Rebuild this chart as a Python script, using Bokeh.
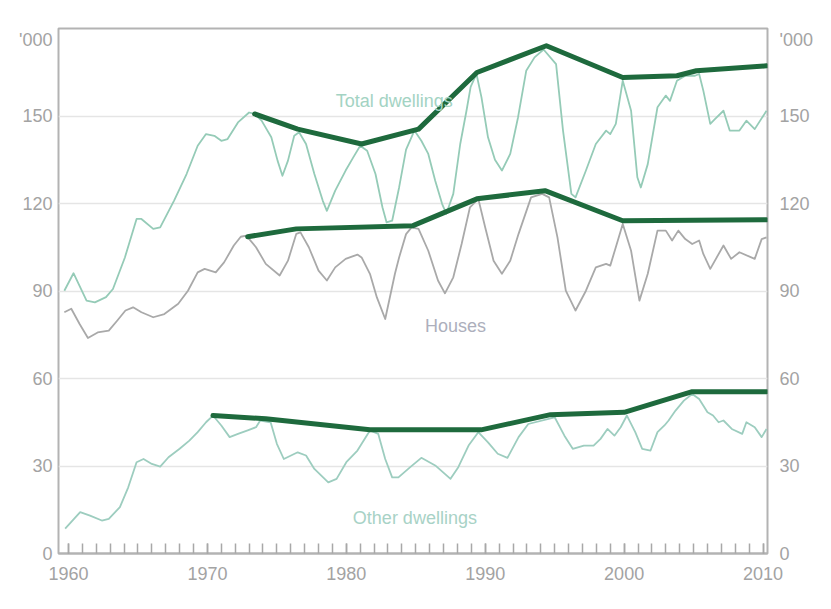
from bokeh.plotting import figure
from bokeh.models import FixedTicker, LinearAxis, Range1d, Label
from bokeh.embed import file_html
from bokeh.resources import INLINE

# ---- data ('000 dwellings) ----
total_x = [1959.7, 1960.36, 1961.3, 1961.9, 1962.7, 1963.2, 1964.06, 1964.9, 1965.25, 1966.1,
           1966.6, 1967.6, 1968.5, 1969.3, 1969.9, 1970.5, 1971.0, 1971.45, 1972.2, 1973.0,
           1973.4, 1973.9, 1974.6, 1975.05, 1975.4, 1975.8, 1976.25, 1976.6, 1977.1, 1977.7,
           1978.3, 1978.6, 1979.2, 1979.95, 1980.5, 1981.0, 1981.5, 1982.1, 1982.6, 1982.9,
           1983.3, 1983.8, 1984.3, 1984.9, 1985.4, 1985.9, 1986.4, 1986.9, 1987.2, 1987.7,
           1988.2, 1988.65, 1988.95, 1989.37, 1989.73, 1990.2, 1990.7, 1991.2, 1991.8, 1992.36,
           1992.95, 1993.55, 1994.2, 1995.1, 1995.6, 1996.2, 1996.5, 1997.25, 1997.96, 1998.7,
           1999.0, 1999.4, 1999.9, 2000.5, 2000.95, 2001.2, 2001.7, 2002.4, 2003.0, 2003.3,
           2003.8, 2004.4, 2005.1, 2005.4, 2005.7, 2006.2, 2006.55, 2007.15, 2007.6, 2008.3,
           2008.8, 2009.4, 2010.25]
total_y = [90.1, 96.1, 86.7, 86.1, 87.9, 90.7, 101.5, 114.7, 114.7, 111.3,
           111.8, 121.0, 130.1, 139.8, 143.8, 143.2, 141.5, 142.1, 147.8, 151.2,
           150.7, 148.4, 142.7, 134.7, 129.5, 134.7, 143.2, 144.4, 140.4, 130.1,
           121.0, 117.5, 124.4, 131.3, 135.8, 139.8, 138.1, 130.1, 118.7, 113.5,
           114.1, 125.5, 138.5, 145.0, 141.5, 137.0, 127.8, 119.8, 116.5, 123.3,
           140.4, 151.8, 160.0, 164.4, 156.4, 142.7, 135.0, 131.3, 137.0, 149.5,
           165.5, 170.1, 172.8, 167.8, 145.0, 123.3, 122.1, 131.3, 140.4, 145.0,
           143.8, 147.3, 162.1, 151.8, 129.0, 125.5, 133.5, 153.0, 157.0, 155.2,
           162.1, 163.8, 163.8, 164.4, 158.7, 147.3, 149.0, 151.8, 145.0, 145.0,
           148.4, 145.5, 151.8]

houses_x = [1959.7, 1960.2, 1960.8, 1961.4, 1962.1, 1962.9, 1963.5, 1964.1, 1964.65, 1965.25,
            1966.1, 1966.9, 1967.9, 1968.6, 1969.3, 1969.8, 1970.6, 1971.2, 1971.9, 1972.4,
            1972.8, 1973.5, 1974.2, 1975.2, 1975.8, 1976.4, 1976.7, 1977.3, 1978.0, 1978.6,
            1979.2, 1979.95, 1980.8, 1981.1, 1981.7, 1982.2, 1982.8, 1983.5, 1983.8, 1984.3,
            1984.7, 1985.2, 1985.9, 1986.6, 1987.1, 1987.7, 1988.3, 1988.9, 1989.5, 1990.0,
            1990.6, 1991.2, 1991.8, 1992.4, 1993.3, 1994.1, 1994.6, 1995.2, 1995.8, 1996.5,
            1997.25, 1997.96, 1998.7, 1999.0, 1999.4, 1999.9, 2000.5, 2001.1, 2001.7, 2002.4,
            2003.0, 2003.45, 2003.9, 2004.4, 2004.9, 2005.4, 2005.7, 2006.2, 2007.15, 2007.7,
            2008.3, 2009.4, 2009.9, 2010.25]
houses_y = [82.7, 83.9, 78.7, 73.9, 75.8, 76.4, 79.8, 83.3, 84.4, 82.7,
            81.0, 82.1, 85.6, 90.1, 96.4, 97.6, 96.4, 99.8, 105.6, 108.6,
            109.0, 105.0, 99.3, 95.3, 100.4, 109.6, 110.1, 105.0, 97.0, 93.6,
            98.1, 101.0, 102.5, 101.5, 95.9, 87.8, 80.4, 95.9, 101.5, 109.5,
            111.8, 111.3, 103.8, 93.6, 89.2, 94.7, 106.1, 118.7, 121.6, 111.8,
            100.4, 95.9, 100.4, 109.6, 122.1, 123.3, 122.1, 108.4, 90.1, 83.3,
            90.1, 98.1, 99.3, 98.7, 105.0, 113.0, 103.8, 86.7, 95.9, 110.7,
            110.7, 107.3, 110.7, 107.8, 106.1, 107.3, 102.7, 97.6, 105.6, 101.0,
            103.3, 101.0, 107.8, 108.4]

other_x = [1959.76, 1960.84, 1961.55, 1962.4, 1962.9, 1963.7, 1964.3, 1964.9, 1965.4, 1966.0,
           1966.6, 1967.2, 1968.0, 1968.7, 1969.3, 1969.9, 1970.4, 1971.0, 1971.6, 1972.2,
           1972.9, 1973.5, 1973.8, 1974.55, 1975.0, 1975.5, 1976.5, 1977.1, 1977.7, 1978.7,
           1979.3, 1980.0, 1980.8, 1981.7, 1982.3, 1982.8, 1983.3, 1983.75, 1984.6, 1985.4,
           1986.4, 1987.5, 1988.06, 1988.8, 1989.5, 1990.2, 1990.9, 1991.6, 1992.4, 1993.1,
           1995.0, 1995.7, 1996.3, 1997.1, 1997.8, 1998.3, 1998.8, 1999.3, 1999.75, 2000.2,
           2000.8, 2001.3, 2001.9, 2002.4, 2002.9, 2003.2, 2003.7, 2004.3, 2004.9, 2005.4,
           2006.0, 2006.4, 2006.8, 2007.15, 2007.75, 2008.5, 2008.8, 2009.4, 2009.9, 2010.25]
other_y = [8.5, 14.2, 13.0, 11.3, 11.9, 15.9, 22.7, 31.3, 32.4, 30.7,
           29.8, 33.0, 35.9, 38.7, 41.6, 45.0, 47.3, 43.9, 39.9, 41.0,
           42.2, 43.3, 45.6, 45.0, 37.6, 32.4, 34.7, 33.6, 29.0, 24.4,
           25.6, 31.3, 35.3, 42.2, 41.0, 32.4, 26.1, 26.1, 29.6, 32.8,
           30.2, 25.6, 29.6, 37.0, 41.6, 38.1, 34.2, 32.8, 39.9, 44.4,
           46.7, 40.4, 35.9, 37.0, 37.0, 39.3, 42.7, 40.4, 43.3, 47.3,
           41.6, 35.9, 35.3, 41.6, 43.9, 45.6, 49.0, 52.4, 54.7, 53.0,
           48.4, 47.3, 45.0, 45.6, 42.7, 41.0, 45.0, 43.3, 39.9, 42.7]

total_peak_x = [1973.4, 1976.5, 1981.1, 1985.2, 1989.4, 1994.4, 1999.9, 2003.8, 2005.2, 2010.25]
total_peak_y = [150.7, 145.5, 140.4, 145.5, 164.9, 174.1, 163.2, 163.8, 165.5, 167.2]

houses_peak_x = [1972.9, 1976.4, 1984.8, 1989.4, 1994.3, 1999.9, 2010.25]
houses_peak_y = [108.6, 111.3, 112.4, 121.6, 124.4, 114.1, 114.4]

other_peak_x = [1970.4, 1974.2, 1981.7, 1989.7, 1994.7, 2000.0, 2004.9, 2010.25]
other_peak_y = [47.3, 46.2, 42.4, 42.4, 47.6, 48.4, 55.5, 55.5]

y_ticks = [0, 30, 60, 90, 120, 150, 176]
grid_ticks = [30, 60, 90, 120, 150]
x_major = [1960, 1970, 1980, 1990, 2000, 2010]
x_minor = list(range(1960, 2011))
unit_label = {176: "'000"}

# ---- styles ----
LIGHT_GREEN = "#95cbb7"
LIGHT_GREEN2 = "#9dcdbf"
GREY = "#a9a9a9"
DARK = "#1e6a3d"
AXIS_TXT = "#a3a3a3"
FONT = "Liberation Sans"
FS = "18px"

p = figure(width=815, height=593, output_backend="svg", toolbar_location=None,
           x_range=Range1d(1959.28, 2010.32), y_range=Range1d(0, 180),
           min_border_left=58, min_border_right=44, min_border_top=28, min_border_bottom=40)
p.background_fill_color = "white"
p.border_fill_color = "white"
p.outline_line_color = "#b3b3b3"
p.outline_line_width = 2

p.xgrid.visible = False
p.ygrid.ticker = FixedTicker(ticks=grid_ticks)
p.ygrid.grid_line_color = "#e5e5e5"
p.ygrid.grid_line_width = 1.5

# bottom axis
xa = p.xaxis[0]
xa.ticker = FixedTicker(ticks=x_major, minor_ticks=x_minor)
xa.major_tick_in = 10
xa.major_tick_out = 0
xa.minor_tick_in = 10
xa.minor_tick_out = 0
xa.major_tick_line_color = "#a0a0a0"
xa.minor_tick_line_color = "#a8a8a8"
xa.major_tick_line_width = 1.5
xa.minor_tick_line_width = 1.5
xa.axis_line_color = "#b3b3b3"
xa.axis_line_width = 2
xa.major_label_text_color = AXIS_TXT
xa.major_label_text_font = FONT
xa.major_label_text_font_size = FS
xa.major_label_standoff = 13

def style_y(ax, standoff):
    ax.ticker = FixedTicker(ticks=y_ticks)
    ax.major_label_overrides = unit_label
    ax.major_tick_in = 0
    ax.major_tick_out = 0
    ax.minor_tick_in = 0
    ax.minor_tick_out = 0
    ax.axis_line_color = None
    ax.major_label_text_color = AXIS_TXT
    ax.major_label_text_font = FONT
    ax.major_label_text_font_size = FS
    ax.major_label_standoff = standoff

style_y(p.yaxis[0], 6)
ra = LinearAxis()
style_y(ra, 12)
p.add_layout(ra, "right")

# series
p.line(total_x, total_y, line_color=LIGHT_GREEN, line_width=1.8, line_join="round")
p.line(houses_x, houses_y, line_color=GREY, line_width=1.8, line_join="round")
p.line(other_x, other_y, line_color=LIGHT_GREEN2, line_width=1.8, line_join="round")

for xs, ys in [(total_peak_x, total_peak_y), (houses_peak_x, houses_peak_y), (other_peak_x, other_peak_y)]:
    p.line(xs, ys, line_color=DARK, line_width=5, line_join="round", line_cap="round")

# series labels
for txt, x, y, col in [("Total dwellings", 1979.23, 155.2, "#a3d3c3"),
                       ("Houses", 1985.67, 78.1, "#adafbc"),
                       ("Other dwellings", 1980.47, 12.3, "#a8d2c6")]:
    p.add_layout(Label(x=x, y=y, text=txt, text_color=col, text_font=FONT,
                       text_font_size=FS, text_baseline="alphabetic", text_align="left"))

open("out.html", "w").write(file_html(p, INLINE))
